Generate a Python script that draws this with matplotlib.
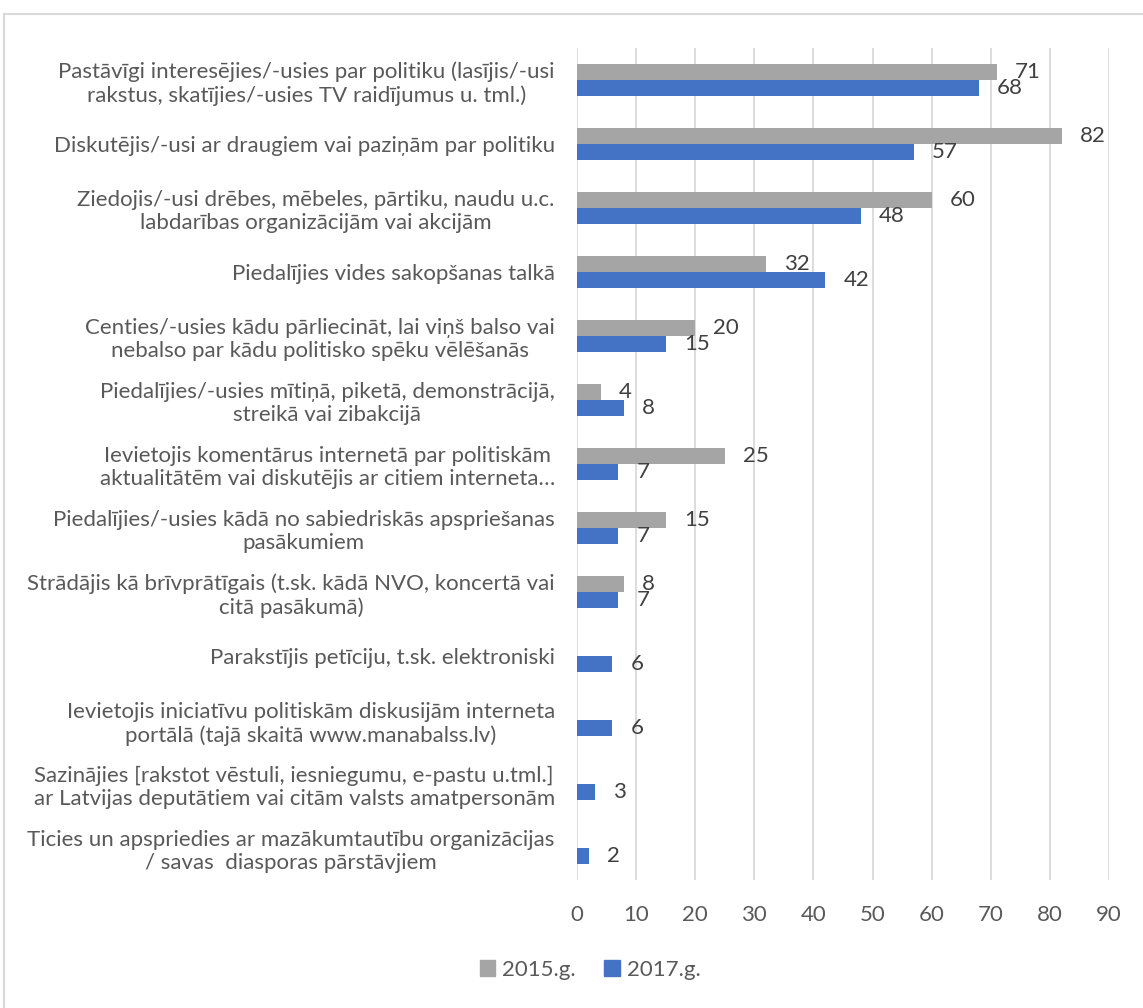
import numpy as np
import matplotlib
matplotlib.use("Agg")
import matplotlib.pyplot as plt
from matplotlib.lines import Line2D
from matplotlib.patches import Patch

plt.rcParams['font.family'] = ['Lato', 'DejaVu Sans']

categories = [
    "Pastāvīgi interesējies/-usies par politiku (lasījis/-usi\nrakstus, skatījies/-usies TV raidījumus u. tml.)",
    "Diskutējis/-usi ar draugiem vai paziņām par politiku",
    "Ziedojis/-usi drēbes, mēbeles, pārtiku, naudu u.c.\nlabdarības organizācijām vai akcijām",
    "Piedalījies vides sakopšanas talkā",
    "Centies/-usies kādu pārliecināt, lai viņš balso vai\nnebalso par kādu politisko spēku vēlēšanās",
    "Piedalījies/-usies mītiņā, piketā, demonstrācijā,\nstreikā vai zibakcijā",
    "Ievietojis komentārus internetā par politiskām\naktualitātēm vai diskutējis ar citiem interneta…",
    "Piedalījies/-usies kādā no sabiedriskās apspriešanas\npasākumiem",
    "Strādājis kā brīvprātīgais (t.sk. kādā NVO, koncertā vai\ncitā pasākumā)",
    "Parakstījis petīciju, t.sk. elektroniski",
    "Ievietojis iniciatīvu politiskām diskusijām interneta\nportālā (tajā skaitā www.manabalss.lv)",
    "Sazinājies [rakstot vēstuli, iesniegumu, e-pastu u.tml.]\nar Latvijas deputātiem vai citām valsts amatpersonām",
    "Ticies un apspriedies ar mazākumtautību organizācijas\n/ savas  diasporas pārstāvjiem",
]
values_2015 = [71, 82, 60, 32, 20, 4, 25, 15, 8, np.nan, np.nan, np.nan, np.nan]
values_2017 = [68, 57, 48, 42, 15, 8, 7, 7, 7, 6, 6, 3, 2]
series_names = ["2015.g.", "2017.g."]
x_ticks = list(range(0, 100, 10))

gray = "#A5A5A5"
blue = "#4472C4"
text_col = "#595959"
grid_col = "#D9D9D9"
fs = 16

W, H = 1143, 1008
fig = plt.figure(figsize=(W / 100, H / 100), dpi=100)
ax = fig.add_axes([577 / W, 1 - 880 / H, (1109 - 577) / W, (880 - 48) / H])

y = np.arange(len(categories))
h = 0.25
b15 = ax.barh(y - h / 2, values_2015, height=h, color=gray)
b17 = ax.barh(y + h / 2, values_2017, height=h, color=blue)

# data labels to the right of each bar (2015 has no values for the last four rows)
for bars, vals in ((b15, values_2015), (b17, values_2017)):
    for rect, v in zip(bars, vals):
        if np.isnan(v):
            continue
        ax.annotate(f"{v:g}", (v, rect.get_y() + rect.get_height() / 2),
                    xytext=(13, 0), textcoords="offset points",
                    ha="left", va="center", fontsize=fs, color="#404040")

ax.set_xlim(0, 90)
ax.set_ylim(len(categories) - 0.5, -0.5)
ax.set_xticks(x_ticks)
ax.set_yticks(y)
ax.set_yticklabels(categories, fontsize=fs, color=text_col, multialignment="center",
                   linespacing=1.2)
ax.tick_params(axis="x", length=0, pad=18, labelsize=fs, labelcolor=text_col)
ax.tick_params(axis="y", length=0, pad=16)
ax.xaxis.grid(True, color=grid_col, linewidth=1.3)
ax.set_axisbelow(True)
for s in ax.spines.values():
    s.set_visible(False)

handles = [Patch(color=gray), Patch(color=blue)]
fig.legend(handles, series_names, loc="center", bbox_to_anchor=(590 / W, 1 - 970 / H),
           ncol=2, frameon=False, fontsize=fs, labelcolor=text_col,
           handlelength=0.7, handleheight=0.7, handletextpad=0.3, columnspacing=1.3)

# outer chart border (only left and top edges fall inside the image)
fig.add_artist(Line2D([4 / W, 4 / W], [0, 1 - 14 / H], transform=fig.transFigure, color=grid_col, lw=1.5))
fig.add_artist(Line2D([4 / W, 1], [1 - 14 / H, 1 - 14 / H], transform=fig.transFigure, color=grid_col, lw=1.5))

fig.savefig("out.png", dpi=100, facecolor="white")
